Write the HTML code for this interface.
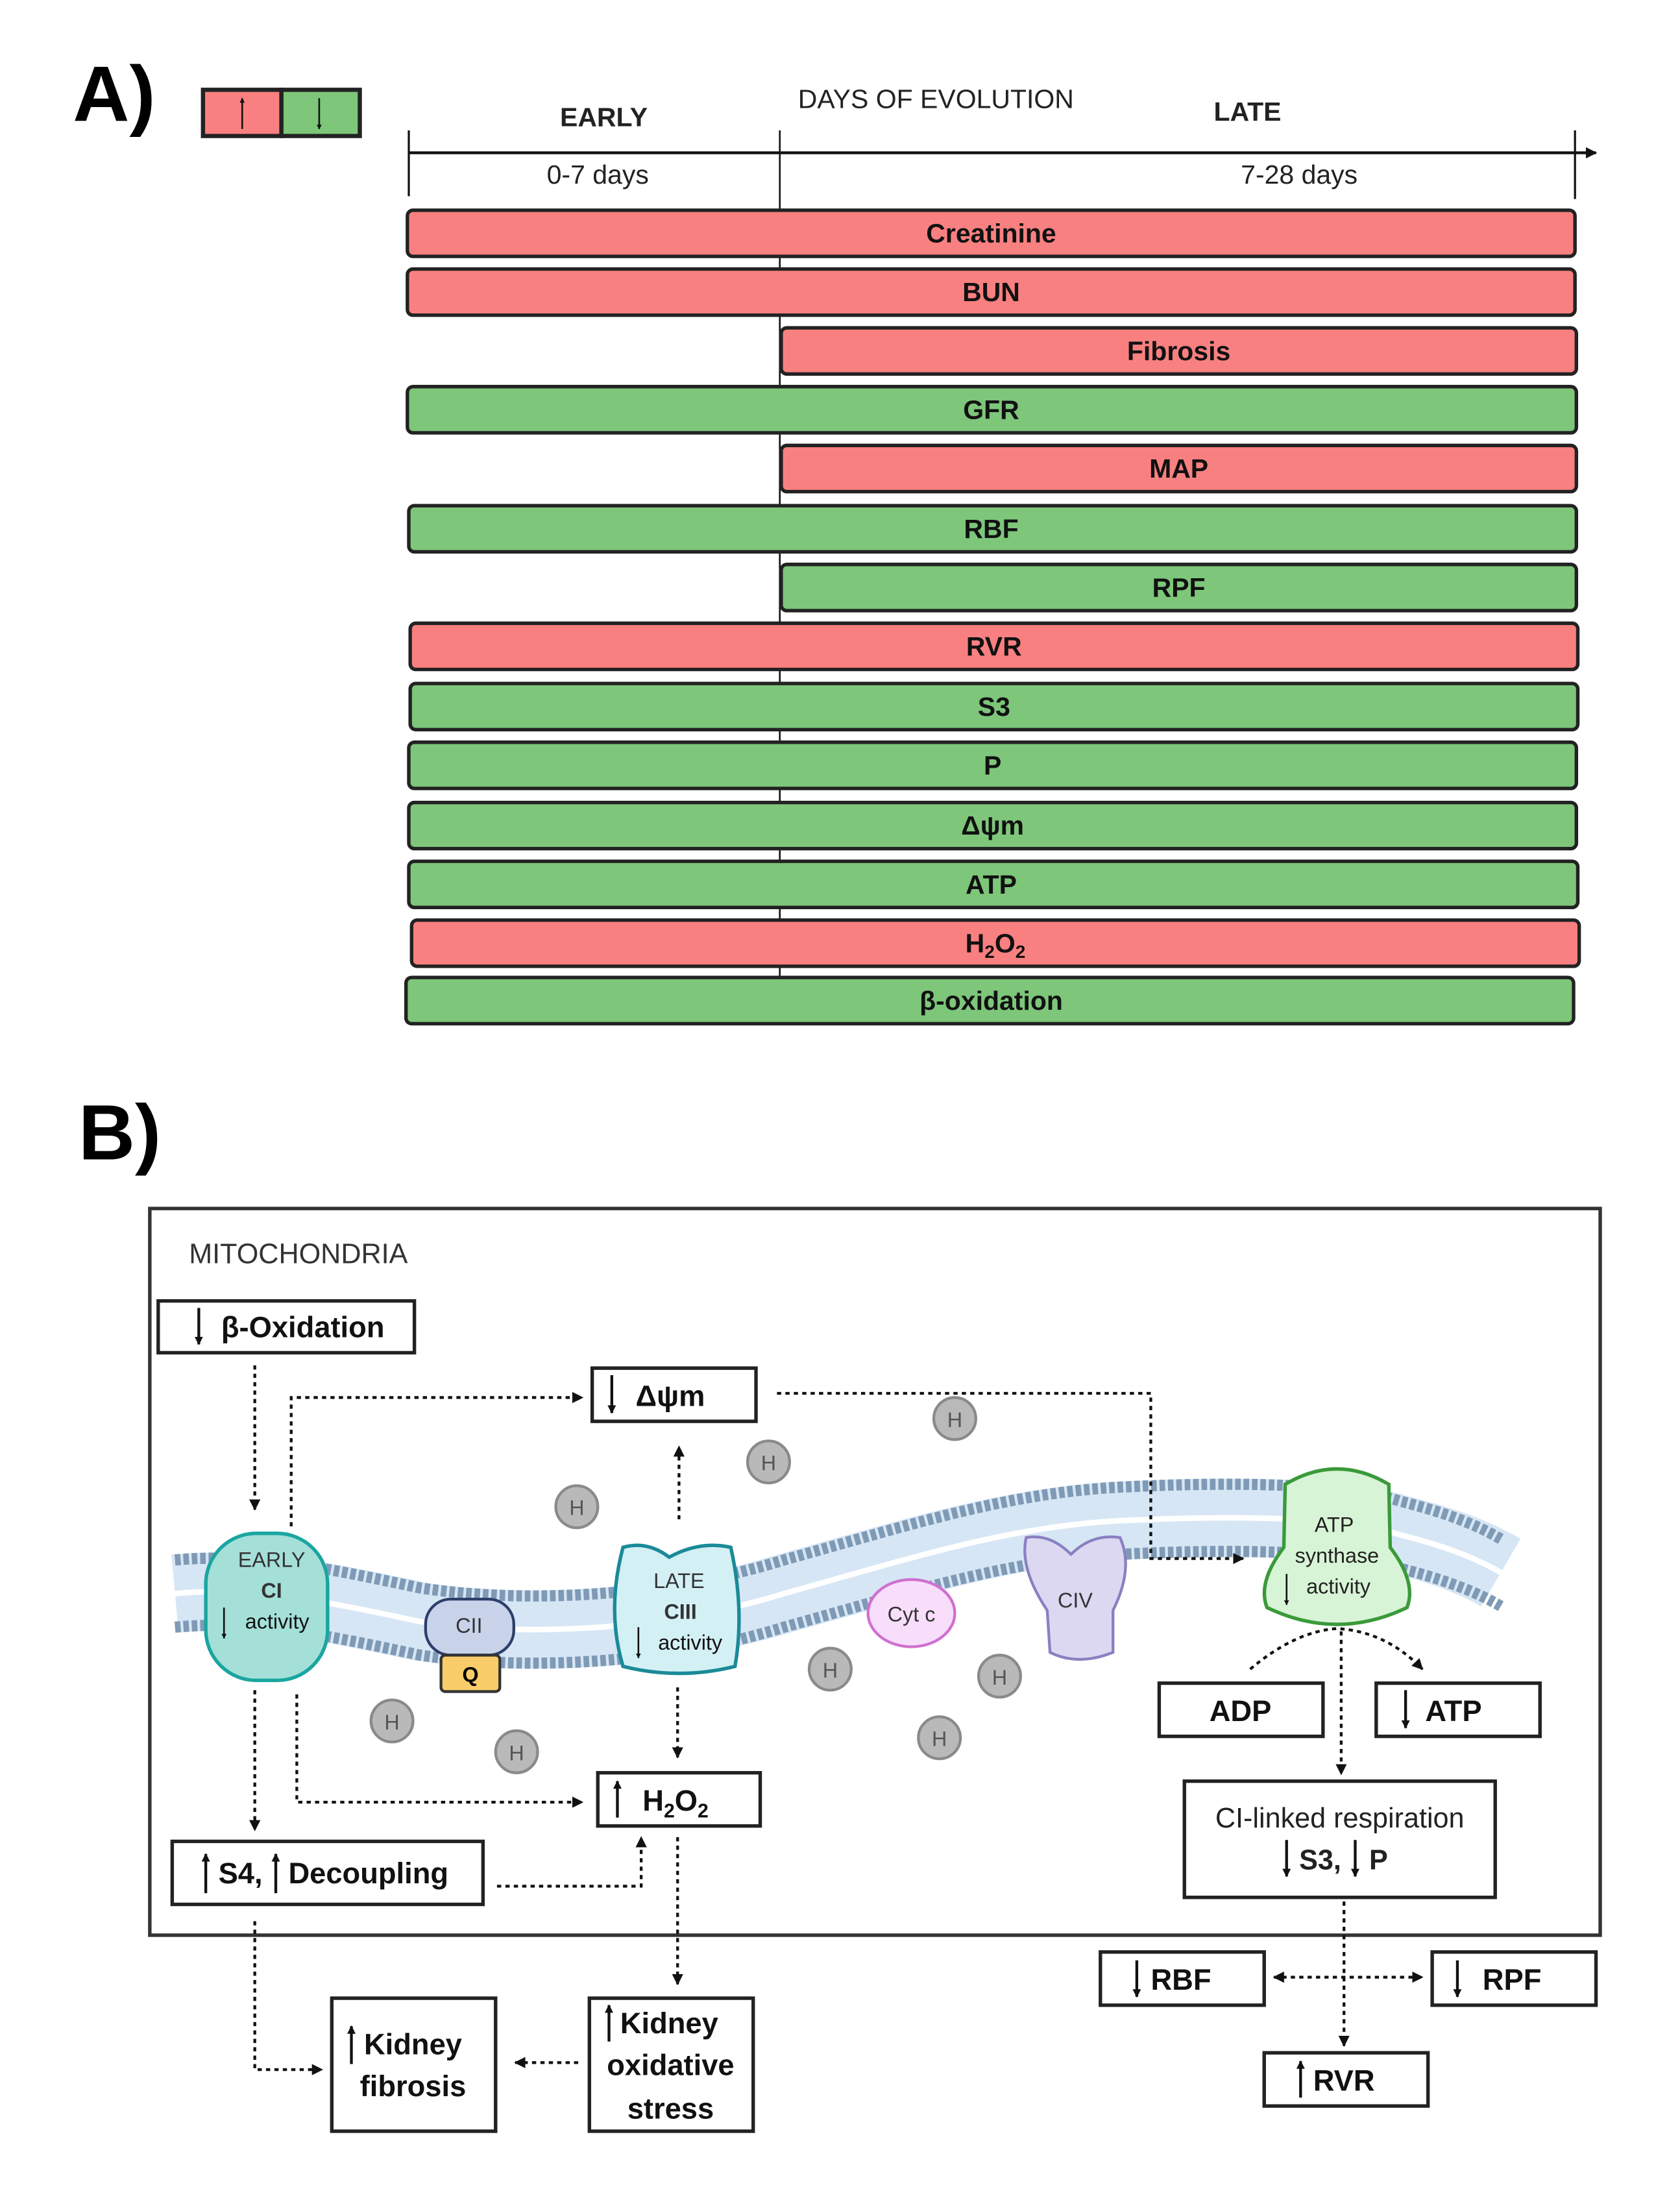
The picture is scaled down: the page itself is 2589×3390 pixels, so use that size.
<!DOCTYPE html>
<html><head><meta charset="utf-8"><style>html,body{margin:0;padding:0;background:#fff}svg{display:block}</style></head>
<body>
<svg width="2589" height="3390" viewBox="0 0 1200 1571" xmlns="http://www.w3.org/2000/svg" font-family="Liberation Sans, sans-serif">
<defs>
<marker id="ah" viewBox="0 0 10 10" refX="9" refY="5" markerWidth="4" markerHeight="4" orient="auto-start-reverse"><path d="M0,0L10,5L0,10z" fill="#111"/></marker>
<marker id="ah2" viewBox="0 0 10 10" refX="9" refY="5" markerWidth="3" markerHeight="3" orient="auto-start-reverse"><path d="M0,0L10,5L0,10z" fill="#111"/></marker>
<path id="mp" d="M125,1138 C180,1133 230,1143 300,1158 C380,1170 480,1163 560,1138 C650,1113 720,1090 800,1086 C880,1082 960,1083 1000,1096 C1040,1106 1060,1116 1072,1123"/>
</defs>
<!-- Panel A -->
<text x="52" y="86" font-size="56" font-weight="bold">A)</text>
<rect x="145" y="64" width="56" height="33" fill="#f98080" stroke="#222" stroke-width="3"/>
<rect x="201" y="64" width="56" height="33" fill="#7dc67a" stroke="#222" stroke-width="3"/>
<line x1="173" y1="92" x2="173" y2="70" stroke="#111" stroke-width="1.2" marker-end="url(#ah2)"/>
<line x1="228" y1="70" x2="228" y2="92" stroke="#111" stroke-width="1.2" marker-end="url(#ah2)"/>
<text x="570" y="77" font-size="19" fill="#222">DAYS OF EVOLUTION</text>
<text x="400" y="90" font-size="19" font-weight="bold" fill="#222">EARLY</text>
<text x="867" y="86" font-size="19" font-weight="bold" fill="#222">LATE</text>
<line x1="292" y1="109" x2="1140" y2="109" stroke="#111" stroke-width="2" marker-end="url(#ah)"/>
<line x1="292" y1="93" x2="292" y2="140" stroke="#111" stroke-width="1.5"/>
<line x1="1125" y1="93" x2="1125" y2="142" stroke="#111" stroke-width="1.5"/>
<line x1="557" y1="93" x2="557" y2="700" stroke="#111" stroke-width="1.2"/>
<text x="427" y="131" font-size="19" text-anchor="middle" fill="#222">0-7 days</text>
<text x="928" y="131" font-size="19" text-anchor="middle" fill="#222">7-28 days</text>
<g stroke="#222" stroke-width="2.5" font-size="19" font-weight="bold">
<rect x="291" y="150" width="834" height="33" rx="4" fill="#f98080"/>
<rect x="291" y="192" width="834" height="33" rx="4" fill="#f98080"/>
<rect x="558" y="234" width="568" height="33" rx="4" fill="#f98080"/>
<rect x="291" y="276" width="835" height="33" rx="4" fill="#7dc67a"/>
<rect x="558" y="318" width="568" height="33" rx="4" fill="#f98080"/>
<rect x="292" y="361" width="834" height="33" rx="4" fill="#7dc67a"/>
<rect x="558" y="403" width="568" height="33" rx="4" fill="#7dc67a"/>
<rect x="293" y="445" width="834" height="33" rx="4" fill="#f98080"/>
<rect x="293" y="488" width="834" height="33" rx="4" fill="#7dc67a"/>
<rect x="292" y="530" width="834" height="33" rx="4" fill="#7dc67a"/>
<rect x="292" y="573" width="834" height="33" rx="4" fill="#7dc67a"/>
<rect x="292" y="615" width="835" height="33" rx="4" fill="#7dc67a"/>
<rect x="294" y="657" width="834" height="33" rx="4" fill="#f98080"/>
<rect x="290" y="698" width="834" height="33" rx="4" fill="#7dc67a"/>
</g>
<g font-size="19" font-weight="bold" text-anchor="middle" fill="#111">
<text x="708" y="173">Creatinine</text>
<text x="708" y="215">BUN</text>
<text x="842" y="257">Fibrosis</text>
<text x="708" y="299">GFR</text>
<text x="842" y="341">MAP</text>
<text x="708" y="384">RBF</text>
<text x="842" y="426">RPF</text>
<text x="710" y="468">RVR</text>
<text x="710" y="511">S3</text>
<text x="709" y="553">P</text>
<text x="709" y="596">Δψm</text>
<text x="708" y="638">ATP</text>
<text x="711" y="680">H<tspan font-size="13" dy="4">2</tspan><tspan dy="-4">O</tspan><tspan font-size="13" dy="4">2</tspan></text>
<text x="708" y="721">β-oxidation</text>
</g>
<!-- Panel B -->
<text x="56" y="828" font-size="56" font-weight="bold">B)</text>
<rect x="107" y="863" width="1036" height="519" fill="#fff" stroke="#333" stroke-width="2.5"/>
<text x="135" y="902" font-size="20" fill="#333">MITOCHONDRIA</text>
<!-- membrane -->
<use href="#mp" fill="none" stroke="#d6e6f5" stroke-width="56"/>
<use href="#mp" fill="none" stroke="#fff" stroke-width="4"/>
<use href="#mp" fill="none" stroke="#7f9ab5" stroke-width="8" stroke-dasharray="4 2" transform="translate(0,-24)"/>
<use href="#mp" fill="none" stroke="#7f9ab5" stroke-width="8" stroke-dasharray="4 2" transform="translate(0,24)"/>
<!-- H circles -->
<g fill="#b9b9b9" stroke="#8a8a8a" stroke-width="2">
<circle cx="682" cy="1013" r="15"/><circle cx="549" cy="1044" r="15"/><circle cx="412" cy="1076" r="15"/>
<circle cx="593" cy="1192" r="15"/><circle cx="714" cy="1197" r="15"/><circle cx="671" cy="1241" r="15"/>
<circle cx="280" cy="1229" r="15"/><circle cx="369" cy="1251" r="15"/>
</g>
<g font-size="15" text-anchor="middle" fill="#555">
<text x="682" y="1019">H</text><text x="549" y="1050">H</text><text x="412" y="1082">H</text>
<text x="593" y="1198">H</text><text x="714" y="1203">H</text><text x="671" y="1247">H</text>
<text x="280" y="1235">H</text><text x="369" y="1257">H</text>
</g>
<!-- proteins -->
<rect x="147" y="1095" width="87" height="105" rx="36" fill="#a4e0d8" stroke="#1aa6a0" stroke-width="2.5"/>
<text x="194" y="1119" font-size="15" text-anchor="middle" fill="#333">EARLY</text>
<text x="194" y="1141" font-size="15" font-weight="bold" text-anchor="middle" fill="#333">CI</text>
<text x="198" y="1163" font-size="15" text-anchor="middle" fill="#111">activity</text>
<line x1="160" y1="1148" x2="160" y2="1170" stroke="#111" stroke-width="1.2" marker-end="url(#ah2)"/>
<rect x="304" y="1142" width="63" height="40" rx="18" fill="#c8d3ea" stroke="#2c3e6a" stroke-width="2"/>
<text x="335" y="1166" font-size="15" text-anchor="middle" fill="#333">CII</text>
<rect x="315" y="1182" width="42" height="26" rx="3" fill="#f8cc68" stroke="#333" stroke-width="2"/>
<text x="336" y="1201" font-size="15" font-weight="bold" text-anchor="middle">Q</text>
<path d="M445,1105 Q462,1100 478,1112 Q500,1100 522,1105 Q532,1150 525,1190 Q485,1200 445,1190 Q433,1150 445,1105z" fill="#d3f0f5" stroke="#1a8a98" stroke-width="2.5"/>
<text x="485" y="1134" font-size="15" text-anchor="middle" fill="#333">LATE</text>
<text x="486" y="1156" font-size="15" font-weight="bold" text-anchor="middle" fill="#333">CIII</text>
<text x="493" y="1178" font-size="15" text-anchor="middle" fill="#111">activity</text>
<line x1="456" y1="1162" x2="456" y2="1184" stroke="#111" stroke-width="1.2" marker-end="url(#ah2)"/>
<ellipse cx="651" cy="1152" rx="31" ry="24" fill="#f8defa" stroke="#d070d0" stroke-width="2"/>
<text x="651" y="1158" font-size="15" text-anchor="middle" fill="#333">Cyt c</text>
<path d="M733,1098 Q750,1095 765,1110 Q780,1095 800,1098 Q810,1120 795,1150 L795,1180 Q770,1190 750,1180 L748,1150 Q728,1120 733,1098z" fill="#dcd8f2" stroke="#8a80c0" stroke-width="2"/>
<text x="768" y="1148" font-size="15" text-anchor="middle" fill="#333">CIV</text>
<path d="M918,1060 Q955,1038 992,1060 L993,1105 Q1012,1130 1005,1148 Q955,1172 905,1148 Q898,1130 917,1105z" fill="#d8f4d6" stroke="#3a9a3a" stroke-width="2.5"/>
<text x="953" y="1094" font-size="15" text-anchor="middle" fill="#222">ATP</text>
<text x="955" y="1116" font-size="15" text-anchor="middle" fill="#222">synthase</text>
<text x="956" y="1138" font-size="15" text-anchor="middle" fill="#222">activity</text>
<line x1="919" y1="1124" x2="919" y2="1146" stroke="#111" stroke-width="1.2" marker-end="url(#ah2)"/>
<!-- boxes -->
<g fill="#fff" stroke="#222" stroke-width="2.5">
<rect x="113" y="929" width="183" height="37"/>
<rect x="423" y="977" width="117" height="38"/>
<rect x="427" y="1266" width="116" height="38"/>
<rect x="123" y="1315" width="222" height="45"/>
<rect x="828" y="1202" width="117" height="38"/>
<rect x="983" y="1202" width="117" height="38"/>
<rect x="846" y="1272" width="222" height="83"/>
<rect x="786" y="1394" width="117" height="38"/>
<rect x="1023" y="1394" width="117" height="38"/>
<rect x="903" y="1466" width="117" height="38"/>
<rect x="237" y="1427" width="117" height="95"/>
<rect x="421" y="1427" width="117" height="95"/>
</g>
<g stroke="#111" stroke-width="2" fill="none">
<line x1="142" y1="934" x2="142" y2="960" marker-end="url(#ah2)"/>
<line x1="437" y1="982" x2="437" y2="1009" marker-end="url(#ah2)"/>
<line x1="441" y1="1298" x2="441" y2="1272" marker-end="url(#ah2)"/>
<line x1="147" y1="1352" x2="147" y2="1324" marker-end="url(#ah2)"/>
<line x1="197" y1="1352" x2="197" y2="1324" marker-end="url(#ah2)"/>
<line x1="1004" y1="1207" x2="1004" y2="1234" marker-end="url(#ah2)"/>
<line x1="919" y1="1314" x2="919" y2="1340" marker-end="url(#ah2)"/>
<line x1="968" y1="1314" x2="968" y2="1340" marker-end="url(#ah2)"/>
<line x1="812" y1="1400" x2="812" y2="1426" marker-end="url(#ah2)"/>
<line x1="1041" y1="1400" x2="1041" y2="1426" marker-end="url(#ah2)"/>
<line x1="929" y1="1498" x2="929" y2="1472" marker-end="url(#ah2)"/>
<line x1="251" y1="1474" x2="251" y2="1447" marker-end="url(#ah2)"/>
<line x1="435" y1="1458" x2="435" y2="1432" marker-end="url(#ah2)"/>
</g>
<g font-size="21" font-weight="bold" fill="#111">
<text x="158" y="955">β-Oxidation</text>
<text x="454" y="1004">Δψm</text>
<text x="459" y="1293">H<tspan font-size="14" dy="5">2</tspan><tspan dy="-5">O</tspan><tspan font-size="14" dy="5">2</tspan></text>
<text x="156" y="1345">S4,</text><text x="206" y="1345">Decoupling</text>
<text x="886" y="1229" text-anchor="middle">ADP</text>
<text x="1018" y="1229">ATP</text>
<text x="822" y="1421">RBF</text>
<text x="1059" y="1421">RPF</text>
<text x="938" y="1493">RVR</text>
<text x="260" y="1467">Kidney</text><text x="295" y="1497" text-anchor="middle">fibrosis</text>
<text x="443" y="1452">Kidney</text><text x="479" y="1482" text-anchor="middle">oxidative</text><text x="479" y="1513" text-anchor="middle">stress</text>
</g>
<text x="957" y="1305" font-size="20" text-anchor="middle" fill="#222">CI-linked respiration</text>
<text x="928" y="1335" font-size="20" font-weight="bold" fill="#222">S3,</text><text x="978" y="1335" font-size="20" font-weight="bold" fill="#222">P</text>
<!-- dotted connectors -->
<g stroke="#111" stroke-width="2" fill="none" stroke-dasharray="3 3">
<path d="M182,975 V1078" marker-end="url(#ah)"/>
<path d="M208,1090 V998 H416" marker-end="url(#ah)"/>
<path d="M485,1085 V1033" marker-end="url(#ah)"/>
<path d="M555,995 H822 V1113 H888" marker-end="url(#ah)"/>
<path d="M484,1205 V1255" marker-end="url(#ah)"/>
<path d="M182,1207 V1307" marker-end="url(#ah)"/>
<path d="M212,1210 V1287 H416" marker-end="url(#ah)"/>
<path d="M355,1347 H458 V1312" marker-end="url(#ah)"/>
<path d="M484,1312 V1417" marker-end="url(#ah)"/>
<path d="M182,1372 V1478 H230" marker-end="url(#ah)"/>
<path d="M413,1473 H368" marker-end="url(#ah)"/>
<path d="M893,1192 Q925,1165 955,1163 Q990,1165 1016,1192" marker-end="url(#ah)"/>
<path d="M958,1165 V1267" marker-end="url(#ah)"/>
<path d="M960,1358 V1461" marker-end="url(#ah)"/>
<path d="M910,1412 H1016" marker-start="url(#ah)" marker-end="url(#ah)"/>
</g>
</svg>
</body></html>
